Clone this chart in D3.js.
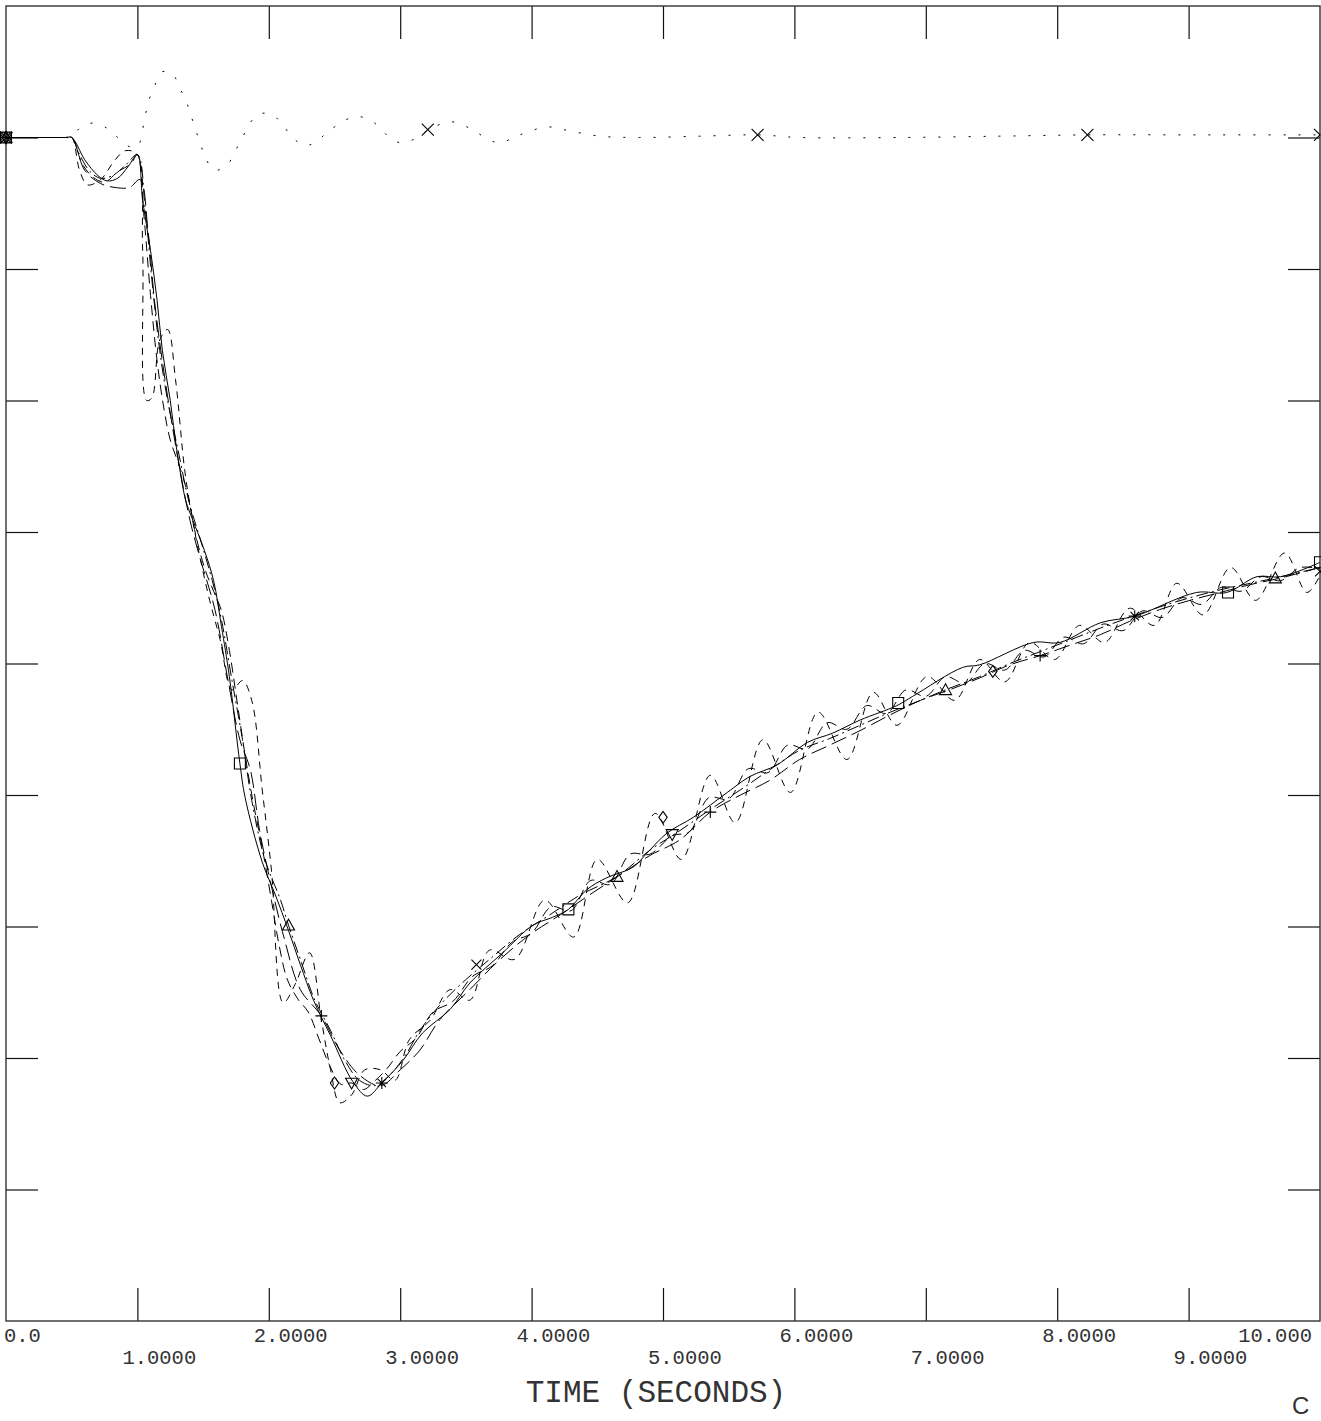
<!DOCTYPE html>
<html><head><meta charset="utf-8">
<script src="https://cdn.jsdelivr.net/npm/d3@7"></script>
<style>body{margin:0;background:#fff}svg{display:block}</style>
</head><body>
<svg id="chart" width="1321" height="1421"></svg>
<script>
// ---------- data ----------
const xTicks = [0,1,2,3,4,5,6,7,8,9,10];
const xTickLabels = ["0.0","1.0000","2.0000","3.0000","4.0000","5.0000","6.0000","7.0000","8.0000","9.0000","10.000"];
const yTicks = [1,2,3,4,5,6,7,8,9];
const xTitle = "TIME (SECONDS)";
const cornerText = "C";

// solid curve (square symbols)
const solidLine = [[0,9.0],[0.45,9.0],[0.5,9.0],[0.6,8.83],[0.7,8.71],[0.77,8.67],[0.85,8.69],[0.93,8.78],[1.0,8.87],
 [1.04,8.52],[1.10,8.14],[1.15,7.76],[1.19,7.38],[1.25,7.00],[1.30,6.62],[1.36,6.27],[1.38,6.20],[1.51,5.86],
 [1.58,5.63],[1.64,5.28],[1.70,4.90],[1.78,4.24],[1.82,3.98],[1.95,3.49],[2.05,3.24],[2.15,2.97],[2.24,2.71],
 [2.34,2.44],[2.47,2.17],[2.64,1.82],[2.75,1.71],[2.86,1.81],[3.02,1.98],[3.17,2.19],[3.38,2.37],[3.53,2.57],
 [3.78,2.80],[4.01,3.01],[4.16,3.07],[4.28,3.13],[4.42,3.28],[4.57,3.37],[4.77,3.45],[4.88,3.56],[5.03,3.71],
 [5.23,3.83],[5.49,4.02],[5.66,4.14],[5.87,4.23],[6.10,4.40],[6.29,4.47],[6.50,4.57],[6.78,4.68],[6.90,4.75],
 [7.28,4.97],[7.41,4.99],[7.82,5.16],[8.02,5.16],[8.33,5.31],[8.59,5.36],[9.06,5.54],[9.29,5.54],[9.52,5.66],
 [9.70,5.66],[9.98,5.76],[10,5.77]];
const solidMarks = [[0,9.0],[1.78,4.24],[4.28,3.13],[6.79,4.70],[9.30,5.54],[10,5.77]];

// short-dash curve with large oscillation (diamond symbols)
const shortDash = [[0,9.0],[0.45,9.0],[0.5,9.0],[0.56,8.75],[0.62,8.64],[0.72,8.68],[0.83,8.83],[0.91,8.90],[1.0,8.87],
 [1.04,8.14],[1.07,7.00],[1.11,7.02],[1.17,7.46],[1.23,7.54],[1.29,7.16],[1.36,6.47],[1.42,6.09],[1.48,5.79],
 [1.55,5.48],[1.63,5.18],[1.72,4.80],[1.80,4.87],[1.87,4.72],[1.95,4.04],[2.02,3.43],[2.11,2.42],[2.20,2.56],
 [2.31,2.80],[2.40,2.29],[2.47,1.91],[2.54,1.66],[2.63,1.72],[2.73,1.91],[2.85,1.91],[2.96,1.83],[3.07,2.14],
 [3.23,2.29],[3.38,2.52],[3.53,2.44],[3.68,2.82],[3.87,2.75],[4.10,3.20],[4.32,2.92],[4.50,3.51],[4.73,3.18],
 [4.94,3.86],[5.14,3.51],[5.36,4.15],[5.55,3.79],[5.76,4.42],[5.97,4.02],[6.18,4.63],[6.40,4.27],[6.60,4.78],
 [6.78,4.53],[7.01,4.90],[7.22,4.72],[7.41,5.03],[7.60,4.86],[7.79,5.16],[7.98,5.03],[8.17,5.29],[8.36,5.16],
 [8.55,5.42],[8.74,5.29],[8.91,5.61],[9.11,5.37],[9.32,5.73],[9.51,5.48],[9.73,5.84],[9.90,5.54],[10,5.67]];
const shortDashMarks = [[0,9.0],[2.50,1.81],[5.00,3.83],[7.51,4.94]];

// long-dash curve (plus symbols)
const longDash = [[0,9.0],[0.45,9.0],[0.5,9.0],[0.60,8.75],[0.72,8.65],[0.83,8.62],[0.94,8.62],[1.02,8.68],[1.08,8.30],
 [1.13,7.76],[1.21,7.16],[1.31,6.55],[1.40,6.09],[1.48,5.79],[1.59,5.41],[1.69,4.87],[1.78,4.42],[1.86,4.19],
 [1.93,3.73],[2.01,3.35],[2.12,2.90],[2.24,2.52],[2.40,2.32],[2.54,2.06],[2.69,1.87],[2.85,1.79],[3.00,1.91],
 [3.15,2.06],[3.30,2.29],[3.53,2.52],[3.76,2.75],[3.99,2.94],[4.22,3.09],[4.44,3.24],[4.67,3.39],[4.90,3.54],
 [5.13,3.66],[5.36,3.87],[5.59,4.00],[5.81,4.11],[6.04,4.27],[6.27,4.38],[6.50,4.49],[6.73,4.61],[6.96,4.72],
 [7.18,4.80],[7.41,4.89],[7.64,4.99],[7.87,5.06],[8.10,5.14],[8.33,5.22],[8.55,5.32],[8.78,5.41],[9.01,5.48],
 [9.24,5.54],[9.47,5.60],[9.70,5.65],[10,5.73]];
const longDashMarks = [[0,9.0],[2.40,2.32],[5.36,3.87],[7.87,5.06]];

// dash-dot curve (triangle symbols)
const dashDot = [[0,9.0],[0.45,9.0],[0.5,9.0],[0.56,8.87],[0.64,8.74],[0.72,8.69],[0.81,8.71],[0.91,8.79],[1.0,8.87],
 [1.06,8.45],[1.11,7.92],[1.17,7.38],[1.23,7.00],[1.31,6.62],[1.39,6.24],[1.48,5.94],[1.57,5.63],[1.64,5.33],
 [1.72,4.87],[1.80,4.42],[1.87,3.96],[1.97,3.51],[2.09,3.20],[2.15,3.01],[2.24,2.75],[2.35,2.44],[2.47,2.21],
 [2.58,1.98],[2.69,1.83],[2.81,1.79],[2.92,1.87],[3.04,2.02],[3.15,2.21],[3.30,2.40],[3.46,2.56],[3.68,2.75],
 [3.91,2.94],[4.14,3.09],[4.37,3.24],[4.65,3.38],[4.90,3.58],[5.13,3.73],[5.36,3.89],[5.59,4.04],[5.81,4.19],
 [6.04,4.34],[6.27,4.43],[6.50,4.53],[6.73,4.63],[6.96,4.72],[7.15,4.80],[7.41,4.90],[7.64,5.00],[7.87,5.09],
 [8.10,5.18],[8.33,5.27],[8.55,5.35],[8.78,5.43],[9.01,5.50],[9.24,5.56],[9.47,5.61],[9.66,5.65],[10,5.73]];
const dashDotMarks = [[0,9.0],[2.15,3.01],[4.65,3.38],[7.15,4.80],[9.66,5.65]];

// medium-dash curve (inverted-triangle symbols)
const medDash = [[0,9.0],[0.45,9.0],[0.5,9.0],[0.58,8.80],[0.66,8.70],[0.75,8.66],[0.85,8.74],[0.95,8.80],[1.0,8.87],
 [1.05,8.40],[1.10,7.80],[1.15,7.30],[1.20,6.95],[1.25,6.70],[1.32,6.50],[1.38,6.30],[1.45,5.95],[1.52,5.70],
 [1.58,5.55],[1.64,5.40],[1.70,5.10],[1.76,4.70],[1.82,4.30],[1.88,3.95],[1.95,3.60],[2.02,3.20],[2.08,2.85],
 [2.14,2.60],[2.22,2.45],[2.30,2.35],[2.38,2.15],[2.46,1.95],[2.55,1.80],[2.63,1.81],[2.72,1.76],[2.80,1.82],
 [2.90,1.92],[3.00,2.05],[3.12,2.15],[3.25,2.35],[3.40,2.43],[3.55,2.62],[3.70,2.70],[3.85,2.88],[4.00,2.95],
 [4.15,3.15],[4.30,3.12],[4.45,3.35],[4.60,3.32],[4.75,3.55],[4.90,3.55],[5.07,3.69],[5.20,3.72],[5.35,3.98],
 [5.50,3.97],[5.65,4.20],[5.80,4.17],[5.95,4.38],[6.10,4.35],[6.25,4.55],[6.40,4.50],[6.55,4.68],[6.70,4.62],
 [6.85,4.80],[7.00,4.75],[7.15,4.90],[7.30,4.85],[7.45,5.00],[7.60,4.95],[7.75,5.10],[7.90,5.05],[8.05,5.20],
 [8.20,5.15],[8.35,5.30],[8.50,5.25],[8.65,5.40],[8.80,5.35],[8.95,5.50],[9.10,5.45],[9.25,5.58],[9.40,5.55],
 [9.55,5.66],[9.70,5.63],[9.85,5.73],[10,5.72]];
const medDashMarks = [[0,9.0],[2.63,1.81],[5.07,3.70]];

// dotted curve near the top (x symbols)
const dotted = [[0,9.0],[0.45,9.0],[0.5,9.0],[0.56,9.07],[0.66,9.11],[0.77,9.07],[0.85,9.0],[0.94,8.93],[1.0,8.93],
 [1.06,9.17],[1.09,9.29],[1.13,9.39],[1.19,9.50],[1.27,9.48],[1.32,9.38],[1.37,9.28],[1.41,9.16],[1.48,8.95],
 [1.52,8.84],[1.59,8.75],[1.69,8.80],[1.74,8.89],[1.80,9.00],[1.85,9.10],[1.93,9.18],[2.03,9.17],[2.11,9.09],
 [2.18,9.00],[2.27,8.94],[2.35,8.96],[2.47,9.06],[2.66,9.16],[2.79,9.12],[2.92,9.00],[3.00,8.96],[3.09,8.98],
 [3.22,9.06],[3.38,9.12],[3.53,9.07],[3.68,8.98],[3.76,8.96],[3.91,9.02],[4.12,9.08],[4.29,9.05],[4.52,9.01],
 [4.82,9.0],[5.28,9.01],[5.72,9.02],[6.04,9.0],[6.80,9.0],[7.56,9.01],[8.23,9.02],[9.09,9.02],[10,9.02]];
const dottedMarks = [[0,9.0],[3.21,9.06],[5.72,9.02],[8.23,9.02]];

// extra symbols on the lower curves
const starMarks = [[2.86,1.81],[8.59,5.36]];
const crossLowMarks = [[3.58,2.71],[10,5.70]];

// ---------- drawing ----------
const svg = d3.select("#chart");
const L = 6, R = 1320, T = 6, B = 1321;
const x = d3.scaleLinear().domain([0,10]).range([L,R]);
const y = d3.scaleLinear().domain([0,10]).range([B,T]);
const FONT = "'Liberation Mono','DejaVu Sans Mono',monospace";

// ticks (inward on all four sides)
const inner = xTicks.filter(d => d > 0 && d < 10);
svg.append("g").attr("transform",`translate(0,${B})`)
  .call(d3.axisBottom(x).tickValues(inner).tickSize(-33).tickFormat(""));
svg.append("g").attr("transform",`translate(0,${T})`)
  .call(d3.axisTop(x).tickValues(inner).tickSize(-33).tickFormat(""));
svg.append("g").attr("transform",`translate(${L},0)`)
  .call(d3.axisLeft(y).tickValues(yTicks).tickSize(-32).tickFormat(""));
svg.append("g").attr("transform",`translate(${R},0)`)
  .call(d3.axisRight(y).tickValues(yTicks).tickSize(-32).tickFormat(""));
svg.selectAll(".domain").remove();
svg.selectAll(".tick line").attr("stroke","#111").attr("stroke-width",1.2);

svg.append("rect").attr("x",L).attr("y",T).attr("width",R-L).attr("height",B-T)
  .attr("fill","none").attr("stroke","#333").attr("stroke-width",1.4);

// tick labels, staggered in two rows
const labG = svg.append("g").attr("font-family",FONT).attr("font-size","20.5px").attr("fill","#333");
xTicks.forEach((t,i) => {
  const txt = labG.append("text").text(xTickLabels[i])
    .attr("y", i % 2 === 0 ? 1342 : 1364);
  const w = txt.node().getComputedTextLength();
  let px = x(t) - 15;
  px = Math.max(L - 2, Math.min(px, R - 8 - w));
  txt.attr("x", px);
});

svg.append("text").text(xTitle).attr("x",(x(0)+x(10))/2 - 7).attr("y",1402)
  .attr("text-anchor","middle").attr("font-family",FONT).attr("font-size","31px").attr("fill","#333");
svg.append("text").text(cornerText).attr("x",1292).attr("y",1414)
  .attr("font-family","'Liberation Sans',Arial,sans-serif").attr("font-size","24px").attr("fill","#333");

// curves
const line = d3.line().x(d => x(d[0])).y(d => y(d[1])).curve(d3.curveCatmullRom.alpha(0.5));
const curves = [
  {data: dotted,    dash: "2,13"},
  {data: medDash,   dash: "10,6"},
  {data: longDash,  dash: "16,6"},
  {data: dashDot,   dash: "12,4,2,4"},
  {data: shortDash, dash: "7,6"},
  {data: solidLine, dash: null}
];
const cg = svg.append("g").attr("fill","none").attr("stroke","#000").attr("stroke-width",1.0);
curves.forEach(c => {
  cg.append("path").attr("d", line(c.data)).attr("stroke-dasharray", c.dash);
});

// symbols
const sym = {
  square: s => `M${-s},${-s}h${2*s}v${2*s}h${-2*s}Z`,
  tri: s => `M0,${-s}L${s},${s*0.8}L${-s},${s*0.8}Z`,
  itri: s => `M0,${s}L${s},${-s*0.8}L${-s},${-s*0.8}Z`,
  diamond: s => `M0,${-s}L${s*0.7},0L0,${s}L${-s*0.7},0Z`,
  plus: s => `M${-s},0H${s}M0,${-s}V${s}`,
  cross: s => `M${-s},${-s}L${s},${s}M${-s},${s}L${s},${-s}`,
  star: s => `M${-s},0H${s}M0,${-s}V${s}M${-s*0.7},${-s*0.7}L${s*0.7},${s*0.7}M${-s*0.7},${s*0.7}L${s*0.7},${-s*0.7}`,
  chev: s => `M${-s},${-s}L0,0L${-s},${s}`
};
const mg = svg.append("g").attr("fill","none").attr("stroke","#000").attr("stroke-width",1.1);
function marks(arr, shape, s){
  mg.selectAll(null).data(arr).enter().append("path")
    .attr("transform", d => `translate(${x(d[0])},${y(d[1])})`)
    .attr("d", sym[shape](s));
}
marks(solidMarks, "square", 5.5);
marks(shortDashMarks, "diamond", 6);
marks(longDashMarks, "plus", 6);
marks(dashDotMarks, "tri", 6);
marks(medDashMarks, "itri", 6);
marks(dottedMarks, "cross", 6);
marks(starMarks, "star", 6);
marks(crossLowMarks, "cross", 5);
marks([dotted[dotted.length-1]], "chev", 6);
</script>
</body></html>
